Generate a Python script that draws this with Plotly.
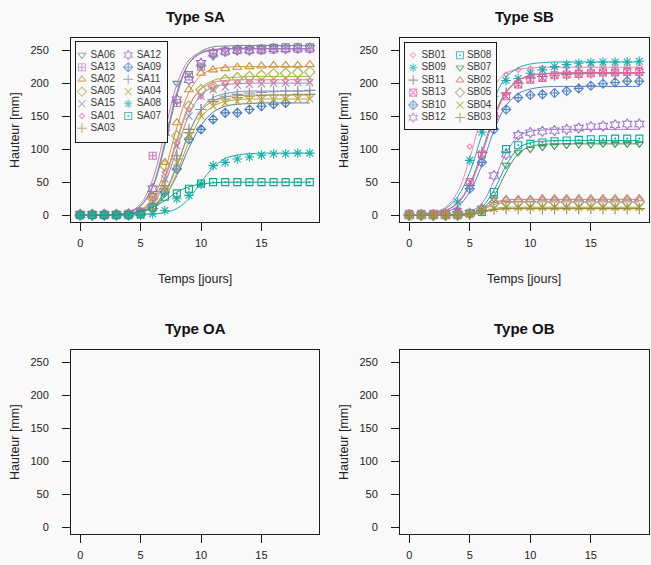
import plotly.graph_objects as go

W, H = 651, 565
FONT = "Liberation Sans, Arial, sans-serif"
days = list(range(20))

# ---------------- Type SA : observed heights [mm] ----------------
SA06_obs = [0, 0, 0, 0, 1, 3, 30, 125, 200, 215, 225, 240, 250, 252, 253, 255, 256, 257, 257, 257]
SA13_obs = [1, 1, 1, 1, 2, 5, 90, 135, 170, 210, 225, 245, 248, 250, 250, 250, 251, 252, 252, 252]
SA02_obs = [0, 0, 0, 0, 1, 5, 30, 80, 140, 190, 215, 220, 222, 224, 225, 226, 227, 227, 227, 228]
SA05_obs = [1, 1, 1, 1, 1, 3, 25, 75, 120, 165, 190, 195, 205, 208, 210, 212, 214, 215, 216, 217]
SA15_obs = [0, 0, 0, 0, 1, 3, 20, 55, 105, 150, 180, 190, 194, 197, 198, 199, 200, 200, 201, 201]
SA01_obs = [0, 0, 0, 0, 1, 3, 25, 65, 110, 160, 180, 195, 200, 201, 202, 203, 203, 204, 204, 204]
SA03_obs = [0, 0, 0, 0, 1, 2, 15, 45, 90, 130, 160, 172, 176, 178, 180, 181, 182, 182, 183, 183]
SA12_obs = [1, 1, 1, 1, 2, 4, 40, 125, 175, 205, 230, 245, 248, 250, 250, 251, 252, 252, 253, 253]
SA09_obs = [0, 0, 0, 0, 0, 2, 10, 35, 70, 115, 130, 145, 155, 155, 160, 165, 168, 170]
SA11_obs = [0, 0, 0, 0, 0, 2, 15, 40, 85, 125, 160, 175, 180, 183, 185, 186, 187, 188, 188, 189]
SA04_obs = [0, 0, 0, 0, 0, 2, 12, 40, 80, 120, 150, 165, 170, 172, 174, 175, 175, 176, 176, 176]
SA08_obs = [0, 0, 0, 0, 0, 0, 2, 7, 25, 30, 47, 75, 80, 85, 88, 91, 93, 93, 94, 94]
SA07_obs = [0, 0, 0, 0, 0, 1, 12, 28, 33, 40, 48, 50, 50, 50, 50, 50, 50, 50, 50, 50]

# ---------------- Type SA : fitted growth curves [mm] ----------------
SA06_fit = [0, 0, 0, 1, 4, 14, 42, 105, 181, 230, 248, 255, 256, 257, 257, 257, 257, 257, 257, 257]
SA13_fit = [0, 0, 0, 1, 5, 17, 54, 126, 198, 235, 247, 251, 252, 252, 252, 252, 252, 252, 252, 252]
SA02_fit = [0, 0, 0, 1, 3, 8, 26, 68, 133, 186, 212, 221, 224, 225, 225, 225, 225, 225, 225, 225]
SA05_fit = [0, 0, 0, 1, 2, 7, 21, 55, 111, 164, 193, 204, 208, 209, 210, 210, 210, 210, 210, 210]
SA15_fit = [0, 0, 0, 1, 2, 6, 18, 48, 100, 152, 182, 194, 198, 199, 200, 200, 200, 200, 200, 200]
SA01_fit = [0, 0, 0, 1, 2, 7, 21, 57, 115, 166, 191, 201, 204, 205, 205, 205, 205, 205, 205, 205]
SA03_fit = [0, 0, 0, 1, 2, 5, 13, 35, 76, 124, 158, 173, 179, 181, 182, 182, 182, 182, 182, 182]
SA12_fit = [0, 0, 0, 1, 4, 14, 44, 110, 186, 230, 245, 250, 252, 252, 252, 252, 252, 252, 252, 252]
SA09_fit = [0, 0, 0, 1, 2, 5, 12, 29, 60, 102, 136, 156, 165, 168, 169, 170, 170, 170, 170, 170]
SA11_fit = [0, 0, 0, 0, 1, 4, 13, 33, 74, 124, 160, 178, 184, 187, 188, 188, 188, 188, 188, 188]
SA04_fit = [0, 0, 0, 0, 1, 4, 11, 28, 64, 112, 148, 165, 172, 175, 176, 176, 176, 176, 176, 176]
SA08_fit = [0, 0, 0, 0, 0, 1, 2, 4, 10, 25, 50, 72, 86, 91, 93, 94, 94, 94, 94, 94]
SA07_fit = [0, 0, 0, 1, 2, 5, 12, 22, 35, 43, 47, 49, 50, 50, 50, 50, 50, 50, 50, 50]

SA_names = ["SA06", "SA13", "SA02", "SA05", "SA15", "SA01", "SA03",
            "SA12", "SA09", "SA11", "SA04", "SA08", "SA07"]
SA_colors = ["#5f9c80", "#c67cb8", "#d3913a", "#a6b545", "#9c8cae", "#e27aa2", "#a88e45",
             "#9272bb", "#4a7cb4", "#8494ae", "#c0a62e", "#1eb0a8", "#0fa487"]
SA_symbols = ["triangle-down-open", "square-cross-open", "triangle-up-open", "diamond-open",
              "x-thin-open", "diamond-open", "cross-thin-open", "hexagram-open",
              "diamond-cross-open", "cross-thin-open", "x-thin-open", "asterisk-open",
              "square-open-dot"]
SA_sizes = [7, 7, 8, 8, 7, 4, 8, 8, 7, 8, 7, 8, 7]
SA_obs = [SA06_obs, SA13_obs, SA02_obs, SA05_obs, SA15_obs, SA01_obs, SA03_obs,
          SA12_obs, SA09_obs, SA11_obs, SA04_obs, SA08_obs, SA07_obs]
SA_fit = [SA06_fit, SA13_fit, SA02_fit, SA05_fit, SA15_fit, SA01_fit, SA03_fit,
          SA12_fit, SA09_fit, SA11_fit, SA04_fit, SA08_fit, SA07_fit]

# ---------------- Type SB : observed heights [mm] ----------------
SB01_obs = [2, 2, 2, 3, 10, 104, 150, 200, 213, 220, 222, 223, 224, 224, 224, 225, 225, 225, 225, 225]
SB09_obs = [1, 1, 1, 2, 20, 83, 126, 180, 204, 207, 215, 220, 225, 228, 230, 231, 232, 232, 232, 233]
SB11_obs = [1, 1, 1, 2, 5, 45, 95, 150, 185, 200, 208, 210, 212, 213, 214, 215, 215, 215, 216, 216]
SB13_obs = [2, 2, 2, 2, 5, 50, 92, 150, 180, 198, 205, 208, 212, 213, 214, 215, 216, 216, 217, 217]
SB10_obs = [1, 1, 1, 1, 3, 40, 80, 130, 160, 178, 182, 183, 185, 188, 192, 196, 199, 201, 203, 203]
SB12_obs = [0, 0, 0, 0, 1, 3, 10, 60, 92, 121, 125, 127, 128, 130, 132, 134, 135, 137, 138, 138]
SB08_obs = [0, 0, 0, 0, 0, 3, 5, 35, 100, 106, 108, 110, 112, 113, 114, 115, 115, 116, 116, 116]
SB07_obs = [0, 0, 0, 0, 0, 1, 5, 25, 76, 95, 100, 103, 105, 106, 107, 107, 108, 108, 108, 108]
SB02_obs = [0, 0, 0, 0, 0, 2, 10, 22, 24, 24, 24, 25, 25, 25, 25, 25, 25, 25, 25, 25]
SB05_obs = [0, 0, 0, 0, 0, 2, 8, 18, 20, 20, 20, 20, 20, 20, 20, 20, 20, 20, 20, 20]
SB04_obs = [0, 0, 0, 0, 0, 1, 8, 10, 12, 12, 12, 12, 12, 12, 12, 12, 12, 12, 12, 12]
SB03_obs = [0, 0, 0, 0, 0, 1, 7, 9, 10, 10, 10, 10, 10, 10, 10, 10, 10, 10, 10, 10]

# ---------------- Type SB : fitted growth curves [mm] ----------------
SB01_fit = [0, 1, 4, 12, 35, 86, 151, 195, 215, 221, 223, 224, 224, 224, 224, 224, 224, 224, 224, 224]
SB09_fit = [0, 1, 4, 10, 28, 65, 122, 176, 209, 223, 229, 231, 232, 232, 232, 232, 232, 232, 232, 232]
SB11_fit = [0, 1, 3, 7, 19, 47, 96, 150, 187, 204, 211, 214, 215, 215, 215, 215, 215, 215, 215, 215]
SB13_fit = [0, 1, 2, 7, 18, 44, 91, 146, 185, 204, 212, 214, 215, 216, 216, 216, 216, 216, 216, 216]
SB10_fit = [0, 1, 2, 5, 13, 35, 76, 128, 166, 184, 191, 194, 195, 195, 195, 195, 195, 195, 195, 195]
SB12_fit = [0, 0, 0, 0, 1, 5, 18, 52, 94, 119, 127, 129, 130, 130, 130, 130, 130, 130, 130, 130]
SB08_fit = [0, 0, 0, 0, 1, 3, 12, 38, 75, 101, 110, 112, 113, 113, 113, 113, 113, 113, 113, 113]
SB07_fit = [0, 0, 0, 0, 1, 2, 9, 29, 65, 93, 104, 107, 108, 108, 108, 108, 108, 108, 108, 108]
SB02_fit = [0, 0, 0, 0, 0, 2, 8, 19, 23, 24, 24, 24, 24, 24, 24, 24, 24, 24, 24, 24]
SB05_fit = [0, 0, 0, 0, 0, 1, 7, 16, 19, 20, 20, 20, 20, 20, 20, 20, 20, 20, 20, 20]
SB04_fit = [0, 0, 0, 0, 0, 1, 4, 10, 12, 12, 12, 12, 12, 12, 12, 12, 12, 12, 12, 12]
SB03_fit = [0, 0, 0, 0, 0, 1, 4, 8, 10, 10, 10, 10, 10, 10, 10, 10, 10, 10, 10, 10]

SB_names = ["SB01", "SB09", "SB11", "SB13", "SB10", "SB12",
            "SB08", "SB07", "SB02", "SB05", "SB04", "SB03"]
SB_colors = ["#e888b2", "#18aeb0", "#7d7d7d", "#e064a4", "#5484c2", "#a07cc8",
             "#10a89c", "#3f9460", "#d27c6c", "#a39a84", "#a6a03c", "#9a8a38"]
SB_symbols = ["diamond-open", "asterisk-open", "cross-thin-open", "square-x-open",
              "diamond-cross-open", "hexagram-open", "square-open-dot", "triangle-down-open",
              "triangle-up-open", "diamond-open", "x-thin-open", "cross-thin-open"]
SB_sizes = [4, 8, 8, 7, 7, 8, 7, 7, 8, 8, 7, 8]
SB_obs = [SB01_obs, SB09_obs, SB11_obs, SB13_obs, SB10_obs, SB12_obs,
          SB08_obs, SB07_obs, SB02_obs, SB05_obs, SB04_obs, SB03_obs]
SB_fit = [SB01_fit, SB09_fit, SB11_fit, SB13_fit, SB10_fit, SB12_fit,
          SB08_fit, SB07_fit, SB02_fit, SB05_fit, SB04_fit, SB03_fit]

panel_titles = ["Type SA", "Type SB", "Type OA", "Type OB"]
x_ticks = [0, 5, 10, 15]
y_ticks = [0, 50, 100, 150, 200, 250]
x_title = "Temps [jours]"
y_title = "Hauteur [mm]"

# ---------------- layout helpers (pixel boxes -> paper domains) ----------------
def xdom(l, r):
    return [l / W, r / W]


def ydom(t, b):
    return [1 - b / H, 1 - t / H]


panel_boxes = [(71, 319, 38, 222), (400, 648.5, 38, 222),
               (71, 319, 350, 534), (400, 648.5, 350, 534)]

fig = go.Figure()


def add_group(names, colors, symbols, sizes, obs, fit, xa, ya):
    for n, c, s, sz, o, f in zip(names, colors, symbols, sizes, obs, fit):
        fig.add_trace(go.Scatter(
            x=days[:len(f)], y=f, mode="lines", name=n,
            line=dict(color=c, width=1, shape="spline", smoothing=1.0),
            xaxis=xa, yaxis=ya, showlegend=False, hoverinfo="skip"))
        fig.add_trace(go.Scatter(
            x=days[:len(o)], y=o, mode="markers", name=n,
            marker=dict(symbol=s, size=sz, color=c, line=dict(color=c, width=1.1)),
            xaxis=xa, yaxis=ya, showlegend=False))


add_group(SA_names, SA_colors, SA_symbols, SA_sizes, SA_obs, SA_fit, "x", "y")
add_group(SB_names, SB_colors, SB_symbols, SB_sizes, SB_obs, SB_fit, "x2", "y2")

# empty panels (Type OA / Type OB): no data, only the frame and axes
for xa, ya in (("x3", "y3"), ("x4", "y4")):
    fig.add_trace(go.Scatter(x=[None], y=[None], mode="markers", xaxis=xa, yaxis=ya,
                             showlegend=False, hoverinfo="skip"))


def add_legend(names, colors, symbols, sizes, xa, ya, nrows, mx, tx):
    for col in range(2):
        idx = list(range(col * nrows, min((col + 1) * nrows, len(names))))
        rows = [i - col * nrows for i in idx]
        fig.add_trace(go.Scatter(
            x=[mx[col]] * len(idx), y=rows, mode="markers",
            marker=dict(symbol=[symbols[i] for i in idx],
                        size=[min(sizes[i], 7) for i in idx],
                        color=[colors[i] for i in idx],
                        line=dict(color=[colors[i] for i in idx], width=1.1)),
            xaxis=xa, yaxis=ya, showlegend=False, hoverinfo="skip"))
        fig.add_trace(go.Scatter(
            x=[tx[col]] * len(idx), y=rows, mode="text",
            text=[names[i] for i in idx], textposition="middle right",
            textfont=dict(family=FONT, size=10, color="#3a3a3a"),
            xaxis=xa, yaxis=ya, showlegend=False, hoverinfo="skip"))


add_legend(SA_names, SA_colors, SA_symbols, SA_sizes, "x5", "y5", 7,
           [0.065, 0.574], [0.16, 0.667])
add_legend(SB_names, SB_colors, SB_symbols, SB_sizes, "x6", "y6", 6,
           [0.09, 0.604], [0.18, 0.68])

axis_common = dict(showline=True, linecolor="#1a1a1a", linewidth=1, mirror=True,
                   ticks="outside", ticklen=8, tickwidth=1, tickcolor="#1a1a1a",
                   showgrid=False, zeroline=False, fixedrange=True,
                   tickfont=dict(family=FONT, size=11, color="#222222"))

layout = {}
for k, (l, r, t, b) in enumerate(panel_boxes, start=1):
    sx = "" if k == 1 else str(k)
    layout["xaxis" + sx] = dict(domain=xdom(l, r), range=[-0.76, 19.76], tickvals=x_ticks,
                                anchor="y" + sx, ticklabelstandoff=3, **axis_common)
    layout["yaxis" + sx] = dict(domain=ydom(t, b), range=[-10.32, 268.32], tickvals=y_ticks,
                                anchor="x" + sx, ticklabelstandoff=11, **axis_common)

legend_axis = dict(showline=True, linecolor="#1a1a1a", linewidth=1.2, mirror=True,
                   ticks="", showticklabels=False, showgrid=False, zeroline=False,
                   fixedrange=True)
layout["xaxis5"] = dict(domain=xdom(76, 167), range=[0, 1], anchor="y5", **legend_axis)
layout["yaxis5"] = dict(domain=ydom(42, 142), range=[7.13, -1.066], anchor="x5", **legend_axis)
layout["xaxis6"] = dict(domain=xdom(405, 496), range=[0, 1], anchor="y6", **legend_axis)
layout["yaxis6"] = dict(domain=ydom(43, 129), range=[5.92, -0.98], anchor="x6", **legend_axis)

annotations = []
for k, (l, r, t, b) in enumerate(panel_boxes):
    cx = (l + r) / 2 / W
    annotations.append(dict(text="<b>" + panel_titles[k] + "</b>", x=cx, y=1 - (t - 22) / H,
                            xref="paper", yref="paper", showarrow=False,
                            font=dict(family=FONT, size=15, color="#111111"),
                            xanchor="center", yanchor="middle"))
    annotations.append(dict(text=y_title, x=(l - 56) / W, y=1 - (t + b) / 2 / H,
                            xref="paper", yref="paper", showarrow=False, textangle=-90,
                            font=dict(family=FONT, size=12.5, color="#222222"),
                            xanchor="center", yanchor="middle"))
    if k < 2:
        annotations.append(dict(text=x_title, x=cx, y=1 - (b + 57) / H,
                                xref="paper", yref="paper", showarrow=False,
                                font=dict(family=FONT, size=12.5, color="#222222"),
                                xanchor="center", yanchor="middle"))

fig.update_layout(**layout)
fig.update_layout(
    width=W, height=H, margin=dict(l=0, r=0, t=0, b=0),
    paper_bgcolor="#f9f9f9", plot_bgcolor="#f9f9f9",
    showlegend=False, annotations=annotations,
    font=dict(family=FONT),
)

fig.write_html("out.html",
               config={"displayModeBar": False, "staticPlot": True},
               post_script="document.body.style.margin='0';"
                           "document.body.style.overflow='hidden';"
                           "document.body.style.background='#f9f9f9';")
